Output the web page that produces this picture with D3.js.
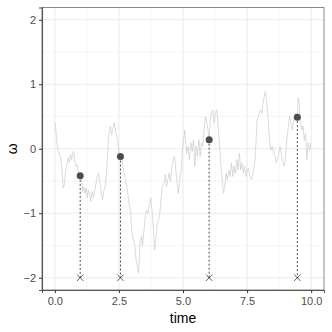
<!DOCTYPE html>
<html>
<head>
<meta charset="utf-8">
<script src="https://cdn.jsdelivr.net/npm/d3@7"></script>
<style>
  body { margin: 0; background: #fff; }
  text { font-family: "Liberation Sans", Arial, sans-serif; }
</style>
</head>
<body>
<div class="graph"></div>
<script>
// Path of omega over time
const time = [0.02,0.04,0.08,0.12,0.17,0.22,0.27,0.33,0.37,0.40,0.44,0.49,0.53,0.57,0.61,0.66,0.70,0.74,0.78,0.82,
  0.87,0.92,0.99,1.05,1.09,1.13,1.18,1.22,1.27,1.31,1.36,1.40,1.46,1.51,1.56,1.61,1.66,1.71,1.77,1.81,
  1.86,1.91,1.96,2.01,2.05,2.09,2.13,2.17,2.22,2.27,2.32,2.37,2.43,2.49,2.56,2.62,2.68,2.75,2.82,2.86,
  2.91,2.96,3.01,3.06,3.11,3.17,3.22,3.26,3.30,3.33,3.39,3.42,3.48,3.53,3.58,3.63,3.68,3.74,3.79,3.84,
  3.89,3.95,4.00,4.05,4.10,4.15,4.20,4.26,4.31,4.36,4.41,4.46,4.51,4.57,4.62,4.67,4.72,4.77,4.82,4.88,
  4.93,4.98,5.04,5.07,5.10,5.15,5.20,5.25,5.31,5.36,5.41,5.46,5.51,5.56,5.62,5.67,5.72,5.77,5.82,5.88,
  5.93,5.98,6.02,6.06,6.11,6.16,6.21,6.26,6.32,6.37,6.42,6.47,6.53,6.58,6.63,6.68,6.73,6.79,6.84,6.89,
  6.94,6.99,7.04,7.10,7.15,7.20,7.25,7.30,7.35,7.41,7.46,7.51,7.55,7.61,7.68,7.74,7.81,7.85,7.89,7.94,
  7.98,8.02,8.07,8.12,8.17,8.21,8.26,8.30,8.35,8.39,8.43,8.48,8.54,8.59,8.64,8.69,8.74,8.79,8.85,8.90,
  8.95,9.00,9.05,9.11,9.16,9.21,9.26,9.32,9.37,9.46,9.49,9.53,9.57,9.63,9.68,9.73,9.78,9.83,9.88,9.94,9.99];
const omega = [0.40,0.29,0.09,-0.02,-0.07,-0.12,-0.30,-0.61,-0.56,-0.43,-0.30,-0.22,-0.14,-0.22,-0.09,-0.17,-0.07,-0.04,-0.17,-0.27,
  -0.25,-0.38,-0.42,-0.51,-0.66,-0.59,-0.69,-0.61,-0.76,-0.64,-0.69,-0.82,-0.66,-0.76,-0.64,-0.53,-0.43,-0.38,-0.56,-0.69,
  -0.79,-0.66,-0.58,-0.43,-0.17,0.19,0.29,0.35,0.22,0.32,0.40,0.27,0.17,-0.02,-0.12,-0.17,-0.33,-0.48,-0.61,-0.74,
  -0.89,-1.00,-1.31,-1.41,-1.46,-1.72,-1.82,-1.93,-1.67,-1.46,-1.36,-1.51,-1.26,-1.05,-0.95,-1.00,-0.89,-0.76,-0.95,-1.20,
  -1.57,-1.36,-1.15,-1.10,-1.00,-0.74,-0.58,-0.53,-0.40,-0.58,-0.48,-0.38,-0.51,-0.27,-0.17,-0.12,-0.33,-0.53,-0.69,-0.43,
  -0.33,-0.02,0.19,0.29,0.11,-0.07,0.04,-0.17,0.09,-0.04,0.14,-0.27,0.04,-0.12,0.14,-0.12,0.09,0.04,0.29,0.50,
  0.40,0.29,0.14,0.45,0.55,0.60,0.40,0.55,0.60,0.35,0.09,-0.22,-0.48,-0.69,-0.58,-0.38,-0.48,-0.33,-0.43,-0.22,
  -0.43,-0.27,-0.38,-0.17,-0.33,-0.07,-0.33,-0.22,-0.38,-0.27,-0.43,-0.33,-0.30,-0.43,-0.48,-0.38,-0.17,0.14,0.45,0.50,
  0.55,0.60,0.55,0.71,0.81,0.89,0.76,0.55,0.29,0.09,-0.02,0.04,-0.07,-0.12,-0.22,-0.14,-0.07,0.04,-0.12,-0.22,
  -0.27,-0.12,0.14,0.35,0.50,0.40,0.29,0.45,0.55,0.49,0.79,0.71,0.45,0.29,0.35,0.14,0.24,-0.17,0.09,-0.02,0.09];

// Sampled points
const sampleTime = [0.99, 2.56, 6.02, 9.46];
const sampleOmega = [-0.42, -0.12, 0.14, 0.49];
const markerLevel = -2;

// Tick labels
const xTicks = [0, 2.5, 5, 7.5, 10];
const xMinor = [1.25, 3.75, 6.25, 8.75];
const yTicks = [-2, -1, 0, 1, 2];
const yMinor = [-1.5, -0.5, 0.5, 1.5];

const width = 332, height = 332;
const margin = { top: 7.5, right: 8, bottom: 42, left: 42 };

const svg = d3.select(".graph").append("svg")
  .attr("width", width)
  .attr("height", height);

const x = d3.scaleLinear().domain([-0.5, 10.5]).range([margin.left, width - margin.right]);
const y = d3.scaleLinear().domain([-2.19, 2.19]).range([height - margin.bottom, margin.top]);

// Grid lines
const grid = svg.append("g");
grid.selectAll(".xminor").data(xMinor).join("line")
  .attr("x1", d => x(d)).attr("x2", d => x(d))
  .attr("y1", y.range()[0]).attr("y2", y.range()[1])
  .attr("stroke", "#f0f0f0").attr("stroke-width", 0.6);
grid.selectAll(".yminor").data(yMinor).join("line")
  .attr("y1", d => y(d)).attr("y2", d => y(d))
  .attr("x1", x.range()[0]).attr("x2", x.range()[1])
  .attr("stroke", "#f0f0f0").attr("stroke-width", 0.6);
grid.selectAll(".xmajor").data(xTicks).join("line")
  .attr("x1", d => x(d)).attr("x2", d => x(d))
  .attr("y1", y.range()[0]).attr("y2", y.range()[1])
  .attr("stroke", "#ebebeb").attr("stroke-width", 1.1);
grid.selectAll(".ymajor").data(yTicks).join("line")
  .attr("y1", d => y(d)).attr("y2", d => y(d))
  .attr("x1", x.range()[0]).attr("x2", x.range()[1])
  .attr("stroke", "#ebebeb").attr("stroke-width", 1.1);

// The noisy path
const line = d3.line().x((d, i) => x(time[i])).y(d => y(d));
svg.append("path")
  .datum(omega)
  .attr("d", line)
  .attr("fill", "none")
  .attr("stroke", "#cccccc")
  .attr("stroke-width", 0.7);

// Dashed drop lines
svg.selectAll(".drop").data(sampleTime).join("line")
  .attr("x1", d => x(d)).attr("x2", d => x(d))
  .attr("y1", (d, i) => y(sampleOmega[i])).attr("y2", y(markerLevel))
  .attr("stroke", "#000").attr("stroke-width", 0.7)
  .attr("stroke-dasharray", "2,2");

// Cross markers
svg.selectAll(".cross").data(sampleTime).join("path")
  .attr("d", d => {
    const cx = x(d), cy = y(markerLevel), r = 3.2;
    return `M${cx - r},${cy - r}L${cx + r},${cy + r}M${cx - r},${cy + r}L${cx + r},${cy - r}`;
  })
  .attr("stroke", "#333").attr("stroke-width", 0.8).attr("fill", "none");

// Sample points
svg.selectAll(".pt").data(sampleTime).join("circle")
  .attr("cx", d => x(d))
  .attr("cy", (d, i) => y(sampleOmega[i]))
  .attr("r", 3.5)
  .attr("fill", "#4d4d4d");

// Panel border
svg.append("rect")
  .attr("x", x.range()[0]).attr("y", y.range()[1])
  .attr("width", x.range()[1] - x.range()[0])
  .attr("height", y.range()[0] - y.range()[1])
  .attr("fill", "none").attr("stroke", "#888").attr("stroke-width", 1);

// Axes
const xAxis = svg.append("g")
  .attr("transform", "translate(0," + y.range()[0] + ")")
  .call(d3.axisBottom(x).tickValues(xTicks).tickFormat(d3.format(".1f")).tickSizeOuter(0).tickSize(3).tickPadding(4));
const yAxis = svg.append("g")
  .attr("transform", "translate(" + x.range()[0] + ",0)")
  .call(d3.axisLeft(y).tickValues(yTicks).tickFormat(d => d < 0 ? "\u2212" + Math.abs(d) : d).tickSizeOuter(0).tickSize(3).tickPadding(3));

[xAxis, yAxis].forEach(a => {
  a.select(".domain").attr("stroke", "#555").attr("stroke-width", 1.1);
  a.selectAll(".tick line").attr("stroke", "#333").attr("stroke-width", 1);
  a.selectAll(".tick text").attr("fill", "#4d4d4d").style("font-size", "11px");
});

// Axis titles
svg.append("text")
  .attr("x", (x.range()[0] + x.range()[1]) / 2)
  .attr("y", 323)
  .attr("text-anchor", "middle")
  .style("font-size", "14px")
  .text("time");

svg.append("text")
  .attr("transform", "translate(17," + y(0) + ") rotate(-90)")
  .attr("text-anchor", "middle")
  .style("font-size", "14px")
  .text("ω");
</script>
</body>
</html>
